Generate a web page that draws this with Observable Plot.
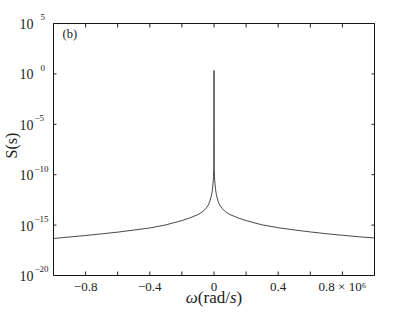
<!DOCTYPE html>
<html><head><meta charset="utf-8">
<script src="https://cdn.jsdelivr.net/npm/d3@7"></script>
<script src="https://cdn.jsdelivr.net/npm/@observablehq/plot@0.6"></script>
<style>
body{margin:0;background:#fff}
#chart svg, #chart svg text { font-family: "Liberation Serif", "DejaVu Serif", serif !important; }
</style>
</head><body><div id="chart"></div>
<script>
// angular frequency, in units of 10^6 rad/s
const omega = [-1.0,-0.9,-0.8,-0.7,-0.6,-0.5,-0.4,-0.3,-0.2,-0.15,-0.1,-0.07,-0.05,-0.035,-0.025,-0.015,-0.01,-0.006,-0.003,-0.001,
  0,
  0.001,0.003,0.006,0.01,0.015,0.025,0.035,0.05,0.07,0.1,0.15,0.2,0.3,0.4,0.5,0.6,0.7,0.8,0.9,1.0];
// spectrum S(s)
const S = [4.7e-17,6.6e-17,9.3e-17,1.35e-16,2.0e-16,3.2e-16,5.2e-16,1.05e-15,2.8e-15,5.2e-15,1.1e-14,2.2e-14,4.5e-14,1.0e-13,2.5e-13,1.0e-12,3.2e-12,1.26e-11,6.3e-11,5.0e-10,
  2.2,
  5.0e-10,6.3e-11,1.26e-11,3.2e-12,1.0e-12,2.5e-13,1.0e-13,4.5e-14,2.2e-14,1.1e-14,5.2e-15,2.8e-15,1.05e-15,5.5e-16,3.3e-16,2.1e-16,1.4e-16,9.8e-17,7.0e-17,5.3e-17];
const xTicks = [-0.8,-0.6,-0.4,-0.2,0,0.2,0.4,0.6,0.8];
const xTickLabels = ["−0.8","","−0.4","","0","","0.4","","0.8 × 10⁶"];
const yTicks = [1e-20,1e-15,1e-10,1e-5,1e0,1e5];
const yExponents = ["−20","−15","−10","−5","0","5"];
const panelLabel = "(b)";
const xLabel = "ω(rad/s)";
const yLabel = "S(s)";

const data = omega.map((w, i) => ({w, s: S[i]}));
const yt = yTicks.map((v, i) => ({v, e: yExponents[i]}));
const font = "'Liberation Serif', serif";

const chart = Plot.plot({
  width: 415, height: 312,
  marginLeft: 53, marginRight: 41, marginTop: 23, marginBottom: 37,
  style: {fontFamily: font, background: "#fff", color: "#222"},
  x: {domain: [-1, 1]},
  y: {type: "log", domain: [1e-20, 1e5]},
  marks: [
    Plot.line(data, {x: "w", y: "s", stroke: "#333", strokeWidth: 0.9}),
    Plot.frame({stroke: "#111"}),
    Plot.axisX({anchor: "bottom", ticks: xTicks, tickSize: -3.5, tickPadding: 10, fontSize: 13, label: null,
      tickFormat: (d) => xTickLabels[xTicks.indexOf(d)] ?? ""}),
    Plot.axisX({anchor: "top", ticks: xTicks, tickSize: -3.5, label: null, tickFormat: () => ""}),
    Plot.axisY({anchor: "left", ticks: yTicks, tickSize: -3.5, label: null, tickFormat: () => ""}),
    Plot.axisY({anchor: "right", ticks: yTicks, tickSize: -3.5, label: null, tickFormat: () => ""}),
    Plot.text(yt, {y: "v", text: () => "10", frameAnchor: "left", textAnchor: "end", lineAnchor: "middle", dx: -20, dy: 1, fontSize: 14, fill: "#222"}),
    Plot.text(yt.filter(d => d.e.startsWith("−")), {y: "v", text: "e", frameAnchor: "left", textAnchor: "start", lineAnchor: "middle", dx: -19, dy: -6, fontSize: 9, fill: "#222"}),
    Plot.text(yt.filter(d => !d.e.startsWith("−")), {y: "v", text: "e", frameAnchor: "left", textAnchor: "start", lineAnchor: "middle", dx: -13, dy: -6, fontSize: 9, fill: "#222"}),
    Plot.text([panelLabel], {text: d => d, frameAnchor: "top-left", textAnchor: "start", lineAnchor: "middle", dx: 9, dy: 10, fontSize: 12.5, fill: "#222"}),
    Plot.text([xLabel], {text: d => d, frameAnchor: "bottom", lineAnchor: "middle", dy: 22, fontSize: 17, fill: "#222"}),
    Plot.text([yLabel], {text: d => d, frameAnchor: "left", lineAnchor: "middle", rotate: -90, dx: -42, dy: 9, fontSize: 16, fill: "#222"})
  ]
});
document.getElementById("chart").appendChild(chart);

// italicise ω and s in the x label
d3.select(chart).selectAll("text").each(function() {
  if (this.textContent === xLabel) {
    const t = d3.select(this);
    t.text("");
    t.append("tspan").attr("font-style", "italic").text("ω");
    t.append("tspan").text("(rad/");
    t.append("tspan").attr("font-style", "italic").text("s");
    t.append("tspan").text(")");
  }
});
</script>
</body></html>
